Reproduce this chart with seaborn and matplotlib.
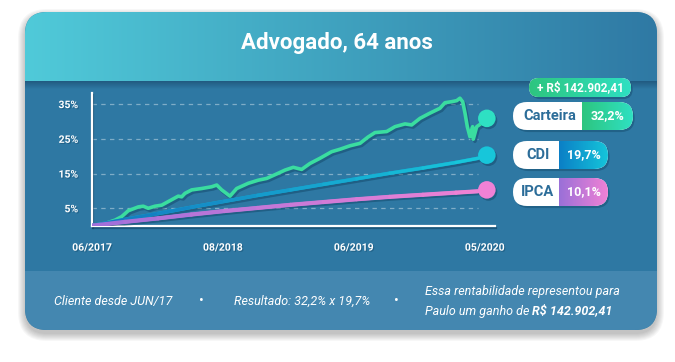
import numpy as np
import pandas as pd
import matplotlib
matplotlib.use("Agg")
import matplotlib.pyplot as plt
import matplotlib.patheffects as pe
from matplotlib.patches import FancyBboxPatch, Rectangle
from matplotlib.collections import LineCollection
from matplotlib.colors import LinearSegmentedColormap
import seaborn as sns

# meses contados a partir de 06/2017, rentabilidade acumulada em %
carteira_mes = [0, 1.18, 2.09, 2.69, 3.29, 4.2, 4.65, 5.1, 5.71, 6.32, 7.07, 7.82,
                8.13, 8.43, 9.04, 9.95, 10.85, 11.31, 11.76, 12.51, 13.12, 14.17,
                15.08, 15.84, 16.89, 17.5, 18.25, 19.01, 19.76, 20.67, 21.73, 22.48,
                23.39, 24.3, 25.02, 25.66, 26.72, 27.47, 28.38, 28.98, 29.74, 30.64,
                31.55, 32.0, 32.61, 33.07, 33.36, 33.61, 33.82, 34.03, 34.27, 34.51,
                34.57, 34.88, 35.33]
carteira_pct = [0, 0.6, 1.6, 2.6, 4.3, 5.4, 5.6, 5.0, 5.6, 5.9, 7.2, 8.5,
                8.3, 9.3, 10.3, 10.7, 11.2, 11.7, 10.3, 8.5, 10.7, 12.2,
                13.1, 13.6, 15.1, 16.0, 16.8, 16.2, 17.9, 19.4, 21.3, 22.0,
                23.0, 23.7, 25.5, 26.8, 27.1, 28.5, 29.3, 29.0, 30.9, 32.4,
                33.8, 35.4, 35.7, 36.0, 36.7, 35.7, 32.4, 28.5, 25.6, 28.5,
                24.9, 28.5, 29.5]
cdi_mes = [0, 3, 6, 9, 12, 15, 18, 21, 24, 27, 30, 33, 35]
cdi_pct = [0, 1.8, 3.5, 5.3, 7.0, 8.7, 10.3, 11.9, 13.5, 15.1, 16.6, 18.2, 19.4]
ipca_mes = [0, 3, 6, 9, 12, 15, 18, 21, 24, 27, 30, 33, 35]
ipca_pct = [0, 1.1, 2.1, 3.2, 4.2, 5.1, 6.0, 6.8, 7.6, 8.3, 8.9, 9.5, 9.9]

fim_mes = 35.8
fim_pct = [30.9, 20.3, 10.3]

series = ["Carteira", "CDI", "IPCA"]
rentab = ["32,2%", "19,7%", "10,1%"]
ganho = "+ R$ 142.902,41"
yticks = [5, 15, 25, 35]
xtick_labels = ["06/2017", "08/2018", "06/2019", "05/2020"]

titulo = "Advogado, 64 anos"
rodape = ["Cliente desde JUN/17", "Resultado: 32,2% x 19,7%",
          "Essa rentabilidade representou para", "Paulo um ganho de "]

sns.set_theme(style="white")
plt.rcParams["font.family"] = ["Roboto", "DejaVu Sans"]

BODY = "#2E78A3"
FOOT = "#4487B0"
DARK = "#0B3A58"


def grad_box(ax, x0, y0, x1, y1, c0, c1, clip, z, vertical=False):
    cmap = LinearSegmentedColormap.from_list("g", [c0, c1])
    arr = np.linspace(0, 1, 256).reshape(1, -1)
    if vertical:
        arr = arr.T
    im = ax.imshow(arr, cmap=cmap, extent=(x0, x1, y1, y0), aspect="auto",
                   zorder=z, interpolation="bilinear")
    im.set_clip_path(clip)
    return im


def rbox(x0, y0, w, h, r, **kw):
    return FancyBboxPatch((x0, y0), w, h, boxstyle=f"round,pad=0,rounding_size={r}", **kw)


fig = plt.figure(figsize=(6.75, 3.62), dpi=100)
fig.patch.set_facecolor("white")
bg = fig.add_axes([0, 0, 1, 1])
bg.set_axis_off()

# sombra do cartao
for i in range(8):
    bg.add_patch(rbox(25 - i, 16 - i, 632 + 2 * i, 318 + 2 * i, 22 + i,
                      fc="black", ec="none", alpha=0.03, zorder=1))
card = rbox(25, 12, 632, 318, 22, fc=BODY, ec="none", zorder=2)
bg.add_patch(card)
grad_box(bg, 25, 12, 657, 81, "#50CAD9", "#2F79A4", card, 3)
grad_box(bg, 25, 81, 657, 89, "#215A80", BODY, card, 3, vertical=True)
foot = Rectangle((25, 271), 632, 60, fc=FOOT, ec="none", zorder=3)
bg.add_patch(foot)
foot.set_clip_path(card)

bg.text(337, 43, titulo, color="white", fontsize=16, fontweight="bold",
        ha="center", va="center", zorder=5)

# pilulas da legenda
sh = [pe.SimplePatchShadow(offset=(1.2, -1.5), shadow_rgbFace=DARK, alpha=0.35), pe.Normal()]
p = rbox(529, 78, 102, 19, 9.5, fc="white", ec="none", zorder=5, path_effects=sh)
bg.add_patch(p)
grad_box(bg, 529, 78, 631, 97, "#2DC57F", "#2FE0C2", p, 6)
bg.text(580, 87.5, ganho, color="white", fontsize=8.5, fontweight="bold",
        ha="center", va="center", zorder=7)

pills = [
    (513, 633, 102, 130, 582, "#2DC57F", "#2FE0C2"),
    (513, 608, 141, 169, 559, "#0B7FC6", "#15C5DA"),
    (513, 608, 178, 206, 559, "#9A70D8", "#F081D5"),
]
for (x0, x1, y0, y1, sp, c0, c1), nome, val in zip(pills, series, rentab):
    h = y1 - y0
    p = rbox(x0, y0, x1 - x0, h, h / 2, fc="white", ec="none", zorder=5, path_effects=sh)
    bg.add_patch(p)
    grad_box(bg, sp, y0, x1, y1, c0, c1, p, 6)
    bg.text((x0 + sp) / 2 + 2, (y0 + y1) / 2, nome, color="#2C6D99", fontsize=10.5,
            fontweight="bold", ha="center", va="center", zorder=7)
    bg.text((sp + x1) / 2, (y0 + y1) / 2, val, color="white", fontsize=9,
            fontweight="bold", ha="center", va="center", zorder=7)

# rodape
fs = 9
bg.text(54, 301, rodape[0], color="white", fontsize=fs, style="italic",
        ha="left", va="center", zorder=5)
bg.text(201, 301, "\u2022", color="white", fontsize=10, ha="center", va="center", zorder=5)
bg.text(234, 301, rodape[1], color="white", fontsize=fs, style="italic",
        ha="left", va="center", zorder=5)
bg.text(396, 301, "\u2022", color="white", fontsize=10, ha="center", va="center", zorder=5)
bg.text(425, 291, rodape[2], color="white", fontsize=fs, style="italic",
        ha="left", va="center", zorder=5)
t4 = bg.text(425, 311, rodape[3], color="white", fontsize=fs, style="italic",
             ha="left", va="center", zorder=5)
bg.annotate(ganho[2:], xy=(1, 0.5), xycoords=t4, color="white", fontsize=fs,
            style="italic", fontweight="bold", ha="left", va="center", zorder=5)

bg.set_xlim(0, 675)
bg.set_ylim(362, 0)

# grafico
ax = fig.add_axes([92 / 675, 1 - 226 / 362, 403 / 675, 133 / 362], zorder=2)
ax.set_facecolor("none")

df = pd.concat([
    pd.DataFrame({"mes": carteira_mes, "pct": carteira_pct, "serie": "Carteira"}),
    pd.DataFrame({"mes": cdi_mes, "pct": cdi_pct, "serie": "CDI"}),
    pd.DataFrame({"mes": ipca_mes, "pct": ipca_pct, "serie": "IPCA"}),
])
line_sh = [pe.SimpleLineShadow(offset=(1.2, -1.5), shadow_color=DARK, alpha=0.4), pe.Normal()]

ax.hlines(yticks, 0, 35, colors="#9BBFD4", linestyles=(0, (3.5, 3.5)), lw=0.9,
          alpha=0.75, zorder=1)

sns.lineplot(data=df, x="mes", y="pct", hue="serie", ax=ax, legend=False,
             palette={"Carteira": "#3ADDA0", "CDI": "#12A6D0", "IPCA": "#C67AD6"},
             lw=2.6, zorder=3)
for ln in ax.lines:
    ln.set_path_effects(line_sh)
    ln.set_solid_capstyle("round")

# degradê sobre CDI e IPCA
for mes, pct, c0, c1, lw in [(cdi_mes, cdi_pct, "#1479C0", "#17C6DA", 2.4),
                             (ipca_mes, ipca_pct, "#A270DA", "#EE82D4", 3.0)]:
    pts = np.column_stack([mes, pct])
    segs = np.stack([pts[:-1], pts[1:]], axis=1)
    cmap = LinearSegmentedColormap.from_list("l", [c0, c1])
    lc = LineCollection(segs, colors=cmap(np.linspace(0, 1, len(segs))), lw=lw,
                        capstyle="round", zorder=4)
    ax.add_collection(lc)

ax.scatter([fim_mes] * 3, fim_pct, s=160, c=["#2EE0C3", "#17C6DA", "#F081D6"],
           zorder=6, linewidths=0,
           path_effects=[pe.SimplePatchShadow(offset=(1.2, -1.5), shadow_rgbFace=DARK, alpha=0.4),
                         pe.Normal()], clip_on=False)

sns.despine(ax=ax)
for s in ["left", "bottom"]:
    ax.spines[s].set_color("white")
    ax.spines[s].set_linewidth(1.6)
    ax.spines[s].set_path_effects([pe.SimpleLineShadow(offset=(1, -1.2), shadow_color=DARK, alpha=0.5),
                                   pe.Normal()])

ax.set_xlim(0, 36.54)
ax.set_ylim(-0.1, 38.2)
ax.set_yticks(yticks)
ax.set_yticklabels([f"{v}%" for v in yticks])
xpos = np.linspace(0, 35.6, len(xtick_labels))
ax.set_xticks(xpos)
ax.set_xticklabels(xtick_labels)
ax.tick_params(axis="y", length=0, pad=10, labelsize=7.5, labelcolor="white")
ax.tick_params(axis="x", length=0, pad=12, labelsize=7.5, labelcolor="white")
txt_sh = [pe.SimplePatchShadow(offset=(0.8, -0.8), shadow_rgbFace=DARK, alpha=0.35), pe.Normal()]
for lab in ax.get_xticklabels() + ax.get_yticklabels():
    lab.set_fontweight("bold")
    lab.set_path_effects(txt_sh)
ax.set_xlabel("")
ax.set_ylabel("")
ax.grid(False)

fig.savefig("out.png", dpi=100, facecolor="white")
